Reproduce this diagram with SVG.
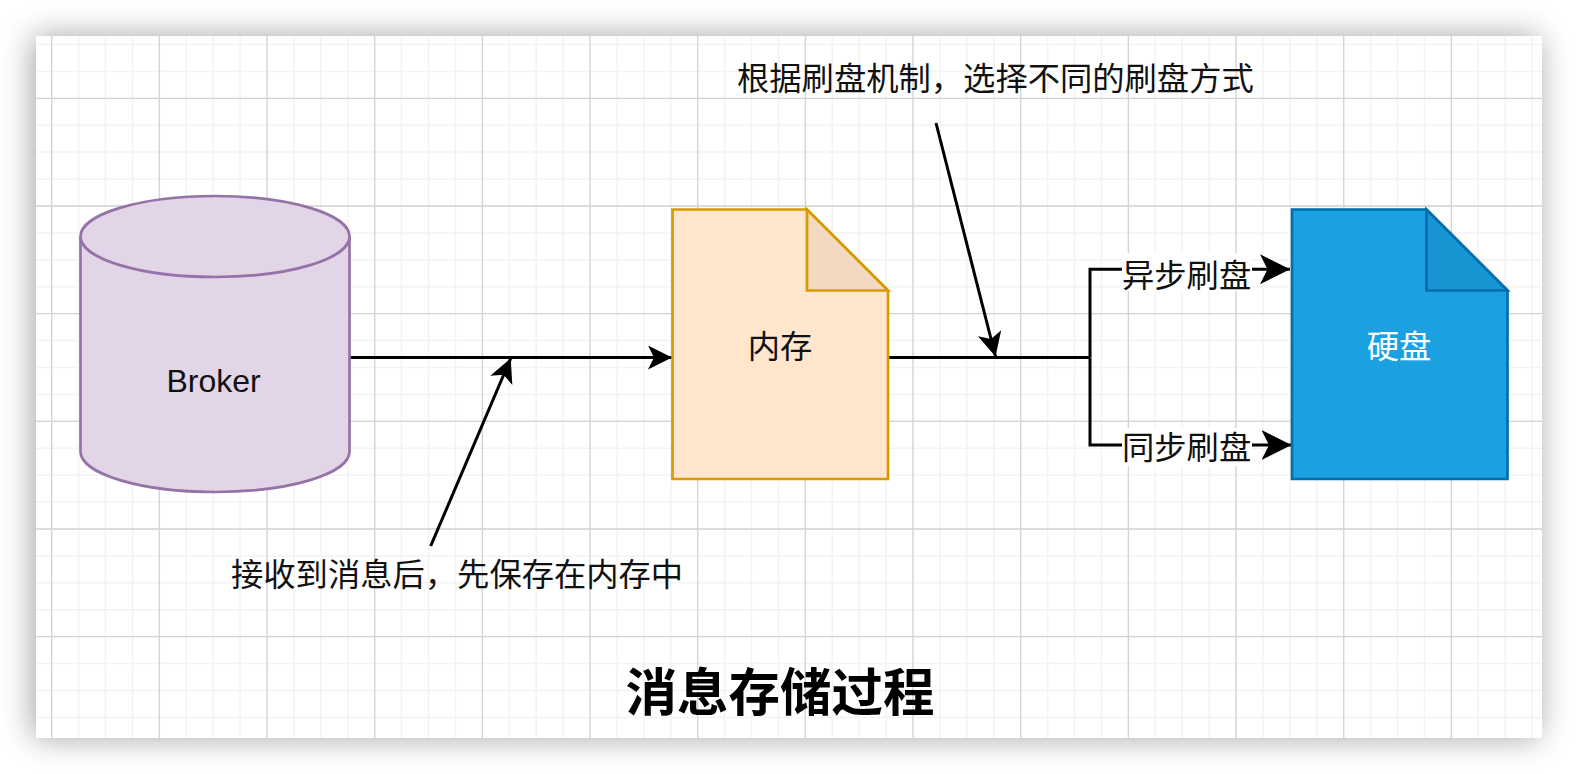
<svg xmlns="http://www.w3.org/2000/svg" width="1578" height="774" viewBox="0 0 1578 774">
<style>
.cjk{font-family:"Noto Sans CJK SC","Noto Sans",sans-serif;font-size:32.3px;fill:#111}
.c{text-anchor:middle}
.line{fill:none;stroke:#000;stroke-width:3}
.major{fill:none;stroke:#d4d4d4;stroke-width:1.3}
.minor{fill:none;stroke:#f3f3f3;stroke-width:1.5}
</style>
<defs>
<filter id="sh" x="-10%" y="-15%" width="120%" height="130%"><feGaussianBlur stdDeviation="16"/></filter>
<marker id="big" markerUnits="userSpaceOnUse" markerWidth="34" markerHeight="34" refX="30" refY="15" orient="auto" viewBox="0 0 34 34"><path d="M0 0L30 15L0 30L7.500 15Z" fill="#000"/></marker>
<marker id="mid" markerUnits="userSpaceOnUse" markerWidth="28" markerHeight="28" refX="24" refY="12" orient="auto" viewBox="0 0 28 28"><path d="M0 0L24 12L0 24L6 12Z" fill="#000"/></marker>
</defs>
<rect x="33" y="36" width="1506" height="702" fill="#000" opacity="0.36" filter="url(#sh)"/>
<rect x="36" y="36" width="1506" height="702" fill="#fff"/>
<path class="minor" d="M51.700 36V738M78.600 36V738M105.500 36V738M132.500 36V738M159.400 36V738M186.300 36V738M213.200 36V738M240.100 36V738M267 36V738M294 36V738M320.900 36V738M347.800 36V738M374.700 36V738M401.600 36V738M428.500 36V738M455.500 36V738M482.400 36V738M509.300 36V738M536.200 36V738M563.100 36V738M590 36V738M617 36V738M643.900 36V738M670.800 36V738M697.700 36V738M724.600 36V738M751.500 36V738M778.500 36V738M805.400 36V738M832.300 36V738M859.200 36V738M886.100 36V738M913 36V738M940 36V738M966.900 36V738M993.800 36V738M1020.700 36V738M1047.600 36V738M1074.500 36V738M1101.500 36V738M1128.400 36V738M1155.300 36V738M1182.200 36V738M1209.100 36V738M1236 36V738M1263 36V738M1289.900 36V738M1316.800 36V738M1343.700 36V738M1370.600 36V738M1397.500 36V738M1424.500 36V738M1451.400 36V738M1478.300 36V738M1505.200 36V738M1532.100 36V738M36 44.500H1542M36 71.400H1542M36 98.300H1542M36 125.200H1542M36 152.100H1542M36 179.100H1542M36 206H1542M36 232.900H1542M36 259.800H1542M36 286.700H1542M36 313.600H1542M36 340.600H1542M36 367.500H1542M36 394.400H1542M36 421.300H1542M36 448.200H1542M36 475.100H1542M36 502.100H1542M36 529H1542M36 555.900H1542M36 582.800H1542M36 609.700H1542M36 636.600H1542M36 663.600H1542M36 690.500H1542M36 717.400H1542"/>
<path class="major" d="M51.700 36V738M159.400 36V738M267 36V738M374.700 36V738M482.400 36V738M590 36V738M697.700 36V738M805.400 36V738M913 36V738M1020.700 36V738M1128.400 36V738M1236 36V738M1343.700 36V738M1451.400 36V738M36 98.300H1542M36 206H1542M36 313.600H1542M36 421.300H1542M36 529H1542M36 636.600H1542"/>

<g id="connectors">
<path class="line" d="M349.500 357.500H672" marker-end="url(#mid)"/>
<path class="line" d="M430.700 546L510.700 358.300" marker-end="url(#mid)"/>
<path class="line" d="M936 123L995.500 356.500" marker-end="url(#mid)"/>
<path class="line" d="M888 357.500H1090"/>
<path class="line" d="M1090 357.500V269.300H1290" marker-end="url(#big)"/>
<path class="line" d="M1090 357.500V445H1291.500" marker-end="url(#big)"/>
</g>

<g id="broker">
<path d="M80.500 236.500A134.500 40.500 0 0 1 349.500 236.500V451.500A134.500 40.500 0 0 1 80.500 451.500Z" fill="#e1d5e7" stroke="#9673a6" stroke-width="2.700"/>
<path d="M80.500 236.500A134.500 40.500 0 0 0 349.500 236.500" fill="none" stroke="#9673a6" stroke-width="2.700"/>
<text x="213.500" y="392" text-anchor="middle" font-family="'Liberation Sans',Arial,sans-serif" font-size="32" fill="#111">Broker</text>
</g>

<g id="memory">
<path d="M672.500 209.500H807L888 290.500V479H672.500Z" fill="#ffe6cc" stroke="#d79b00" stroke-width="2.700"/>
<path d="M807 209.500V290.500H888Z" fill="#f2d9c0" stroke="#d79b00" stroke-width="2.700"/>
<text class="cjk c" x="780" y="358">内存</text>
</g>

<g id="disk">
<path d="M1292 209.500H1426.500L1507.500 290.500V479H1292Z" fill="#1ba1e2" stroke="#006eaf" stroke-width="2.700"/>
<path d="M1426.500 209.500V290.500H1507.500Z" fill="#1a95d4" stroke="#006eaf" stroke-width="2.700"/>
<text class="cjk c" x="1399" y="358" style="fill:#fff">硬盘</text>
</g>

<g id="label-async">
<rect x="1122" y="253" width="130" height="38" fill="#fff"/>
<text class="cjk" x="1122" y="287">异步刷盘</text>
</g>
<g id="label-sync">
<rect x="1122" y="428" width="130" height="38" fill="#fff"/>
<text class="cjk" x="1122" y="459">同步刷盘</text>
</g>
<g id="label-receive"><text class="cjk" x="231" y="586">接收到消息后&#65292;先保存在内存中</text></g>
<g id="label-mechanism"><text class="cjk" x="737" y="90">根据刷盘机制&#65292;选择不同的刷盘方式</text></g>
<g id="title"><text x="780" y="711" text-anchor="middle" font-family="'Noto Sans CJK SC',sans-serif" font-size="51.500" font-weight="700" fill="#000">消息存储过程</text></g>
</svg>
